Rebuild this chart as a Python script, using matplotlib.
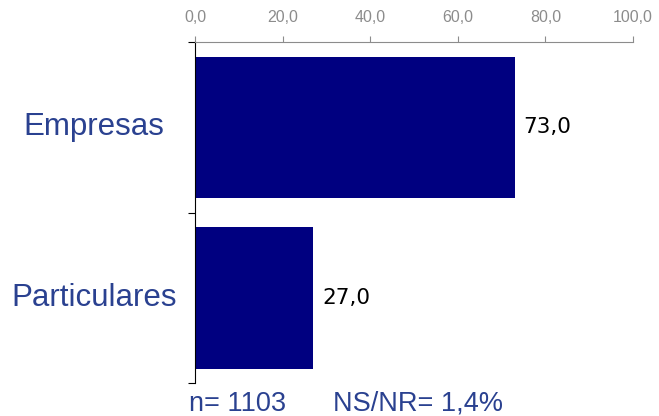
import numpy as np
import matplotlib.pyplot as plt

plt.rcParams['font.family'] = ['Liberation Sans', 'DejaVu Sans']

categorias = ['Empresas', 'Particulares']
valores = [73.0, 27.0]
ticks_x = [0, 20, 40, 60, 80, 100]

fig = plt.figure(figsize=(6.59, 4.16), dpi=100)
ax = fig.add_axes([0.296, 0.079, 0.6646, 0.820])

y = np.arange(len(categorias))
ax.barh(y, valores, height=0.83, color='#000080')

ax.set_xlim(0, 100)
ax.set_ylim(1.5, -0.5)

# eje x arriba, con etiquetas grises
ax.xaxis.tick_top()
ax.set_xticks(ticks_x)
ax.set_xticklabels([f'{t:.1f}'.replace('.', ',') for t in ticks_x],
                   color='#8c8c8c', fontsize=11.5)
ax.tick_params(axis='x', direction='out', length=4, color='#8c8c8c', pad=8)

# ticks del eje y entre categorias
ax.set_yticks([-0.5, 0.5, 1.5])
ax.set_yticklabels([])
ax.tick_params(axis='y', direction='out', length=5, color='black')
for yi, cat in zip(y, categorias):
    ax.text(-0.231, yi, cat, transform=ax.get_yaxis_transform(),
            ha='center', va='center', fontsize=22.5, color='#2a4190')

for s in ['right', 'bottom']:
    ax.spines[s].set_visible(False)
ax.spines['top'].set_color('#8c8c8c')
ax.spines['left'].set_color('black')

for yi, v in zip(y, valores):
    ax.text(v + 2, yi, f'{v:.1f}'.replace('.', ','), va='center', ha='left',
            fontsize=15.5, color='black', family='DejaVu Sans')

fig.text(0.287, 0.03, 'n= 1103', fontsize=19.5, color='#2a4190', va='center')
fig.text(0.505, 0.03, 'NS/NR= 1,4%', fontsize=19.5, color='#2a4190', va='center')

plt.savefig('out.png', dpi=100)
